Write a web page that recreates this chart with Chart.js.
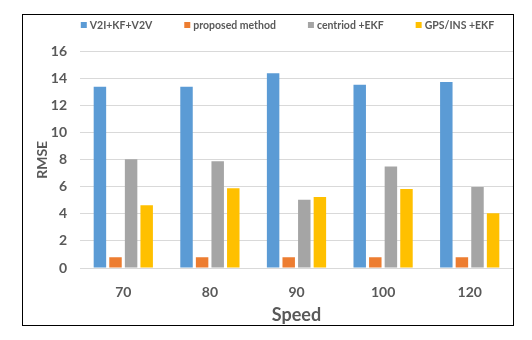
<!DOCTYPE html>
<html>
<head>
<meta charset="utf-8">
<script src="https://cdn.jsdelivr.net/npm/chart.js@4"></script>
<style>
  body { margin: 0; background: #fff; }
  #frame {
    position: absolute; left: 22px; top: 14px;
    width: 492px; height: 312px;
    border: 1px solid #000; box-sizing: border-box;
  }
  #mainGraph { display: block; }
</style>
</head>
<body>
<div id="frame"><canvas id="mainGraph" width="490" height="310"></canvas></div>
<script>
var ctx = document.getElementById('mainGraph').getContext('2d');

// values
const speeds = ["70", "80", "90", "100", "120"];
const v2iKfV2v = [13.4, 13.4, 14.4, 13.55, 13.75];
const proposed = [0.8, 0.8, 0.8, 0.8, 0.8];
const centroidEkf = [8.05, 7.9, 5.05, 7.5, 6.0];
const gpsInsEkf = [4.65, 5.9, 5.25, 5.85, 4.05];
const yTicks = [0, 2, 4, 6, 8, 10, 12, 14, 16];

const FONT = "Lato, 'Liberation Sans', sans-serif";
const TEXT = "#595959";

const data = {
  labels: speeds,
  datasets: [
    { label: 'V2I+KF+V2V', data: v2iKfV2v, backgroundColor: "#5B9BD5" },
    { label: 'proposed method', data: proposed, backgroundColor: "#ED7D31" },
    { label: 'centriod +EKF', data: centroidEkf, backgroundColor: "#A5A5A5" },
    { label: 'GPS/INS +EKF', data: gpsInsEkf, backgroundColor: "#FFC000" }
  ]
};

// legend drawn in one row, a bit right of centre like the original
const topLegend = {
  id: 'topLegend',
  afterDraw(chart) {
    const c = chart.ctx;
    c.save();
    c.font = "bold 10.5px " + FONT;
    c.textBaseline = 'middle';
    const box = 6, gap = 3, spacing = 32;
    const sets = chart.data.datasets;
    let total = 0;
    sets.forEach((ds, i) => {
      total += box + gap + c.measureText(ds.label).width + (i < sets.length - 1 ? spacing : 0);
    });
    let x = 264.5 - total / 2;
    const y = 10;
    sets.forEach(ds => {
      c.fillStyle = ds.backgroundColor;
      c.fillRect(x, y - 3, box, box);
      c.fillStyle = TEXT;
      c.fillText(ds.label, x + box + gap, y + 0.5);
      x += box + gap + c.measureText(ds.label).width + spacing;
    });
    c.restore();
  }
};

var chart = new Chart(ctx, {
    type: 'bar',
    data: data,
    plugins: [topLegend],
    options: {
        responsive: false,
        animation: false,
        layout: { padding: { top: 36.7, left: 4, right: 0, bottom: 0 } },
        datasets: { bar: { categoryPercentage: 0.72, barPercentage: 0.8 } },
        plugins: {
          legend: { display: false },
          tooltip: { enabled: false }
        },
        scales: {
          x: {
            afterFit: scale => { scale.height = 57; },
            grid: { display: false, drawTicks: false },
            border: { color: "#D9D9D9" },
            ticks: { color: TEXT, padding: 15.6, font: { family: FONT, size: 14, weight: 'bold' } },
            title: {
              display: true, text: 'Speed', color: TEXT,
              font: { family: FONT, size: 18, weight: 'bold', lineHeight: 1 },
              padding: { top: 4.6, bottom: 1 }
            }
          },
          y: {
            min: 0, max: 16,
            afterBuildTicks: scale => { scale.ticks = yTicks.map(v => ({ value: v })); },
            afterFit: scale => { scale.width = 53; },
            grid: { color: "#D9D9D9", drawTicks: false },
            border: { display: false },
            ticks: { color: TEXT, padding: 13, font: { family: FONT, size: 14, weight: 'bold' } },
            title: {
              display: true, text: 'RMSE', color: TEXT,
              font: { family: FONT, size: 14, weight: 'bold' },
              padding: { top: 6.6, bottom: 0 }
            }
          }
        }
      }
});
</script>
</body>
</html>
